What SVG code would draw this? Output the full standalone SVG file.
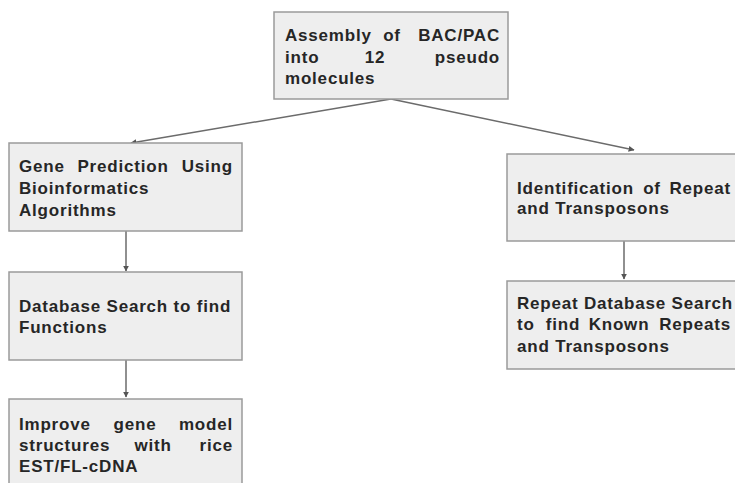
<svg xmlns="http://www.w3.org/2000/svg" width="735" height="483" viewBox="0 0 735 483">
  <defs>
    <style>
      .box { fill: #eeeeee; stroke: #9a9a9a; stroke-width: 1.5; }
      .lbl { font-family: "Liberation Sans", Arial, sans-serif; font-weight: bold; font-size: 17px; letter-spacing: 0.8px; fill: #262626; }
      .e { text-anchor: end; }
      .m { text-anchor: middle; }
      .edge { stroke: #6b6b6b; stroke-width: 1.5; fill: none; marker-end: url(#arrow); }
    </style>
    <marker id="arrow" viewBox="0 0 10 10" refX="9" refY="5" markerWidth="6" markerHeight="6" orient="auto" markerUnits="userSpaceOnUse">
      <path d="M0,0 L10,5 L0,10 z" fill="#555555"/>
    </marker>
  </defs>
  <rect width="735" height="483" fill="#ffffff"/>

  <g id="connectors">
    <line class="edge" x1="391" y1="99" x2="131" y2="143"/>
    <line class="edge" x1="391" y1="99" x2="634" y2="150"/>
    <line class="edge" x1="126" y1="231" x2="126" y2="271"/>
    <line class="edge" x1="126" y1="360" x2="126" y2="397"/>
    <line class="edge" x1="624" y1="241" x2="624" y2="279"/>
  </g>

  <g id="assembly">
    <rect class="box" x="274" y="12" width="234" height="87"/>
    <text class="lbl" x="285" y="41">Assembly</text>
    <text class="lbl m" x="392" y="41">of</text>
    <text class="lbl e" x="500" y="41">BAC/PAC</text>
    <text class="lbl" x="285" y="63">into</text>
    <text class="lbl m" x="375" y="63">12</text>
    <text class="lbl e" x="500" y="63">pseudo</text>
    <text class="lbl" x="285" y="84">molecules</text>
  </g>

  <g id="gene-prediction">
    <rect class="box" x="9" y="143" width="233" height="88"/>
    <text class="lbl" x="19" y="172">Gene</text>
    <text class="lbl m" x="123" y="172">Prediction</text>
    <text class="lbl e" x="233" y="172">Using</text>
    <text class="lbl" x="19" y="194">Bioinformatics</text>
    <text class="lbl" x="19" y="216">Algorithms</text>
  </g>

  <g id="database-search">
    <rect class="box" x="9" y="272" width="233" height="88"/>
    <text class="lbl" x="19" y="312">Database Search to find</text>
    <text class="lbl" x="19" y="333">Functions</text>
  </g>

  <g id="improve-gene-model">
    <rect class="box" x="9" y="399" width="233" height="90"/>
    <text class="lbl" x="19" y="430">Improve</text>
    <text class="lbl m" x="135" y="430">gene</text>
    <text class="lbl e" x="233" y="430">model</text>
    <text class="lbl" x="19" y="451">structures</text>
    <text class="lbl m" x="153" y="451">with</text>
    <text class="lbl e" x="233" y="451">rice</text>
    <text class="lbl" x="19" y="472">EST/FL-cDNA</text>
  </g>

  <g id="repeat-identification">
    <rect class="box" x="507" y="154" width="234" height="87"/>
    <text class="lbl" x="517" y="194">Identification</text>
    <text class="lbl m" x="652" y="194">of</text>
    <text class="lbl e" x="731" y="194">Repeat</text>
    <text class="lbl" x="517" y="214">and Transposons</text>
  </g>

  <g id="repeat-database-search">
    <rect class="box" x="507" y="281" width="234" height="88"/>
    <text class="lbl" x="517" y="309">Repeat Database Search</text>
    <text class="lbl" x="517" y="330">to</text>
    <text class="lbl m" x="563" y="330">find</text>
    <text class="lbl m" x="619" y="330">Known</text>
    <text class="lbl e" x="731" y="330">Repeats</text>
    <text class="lbl" x="517" y="352">and Transposons</text>
  </g>
</svg>
